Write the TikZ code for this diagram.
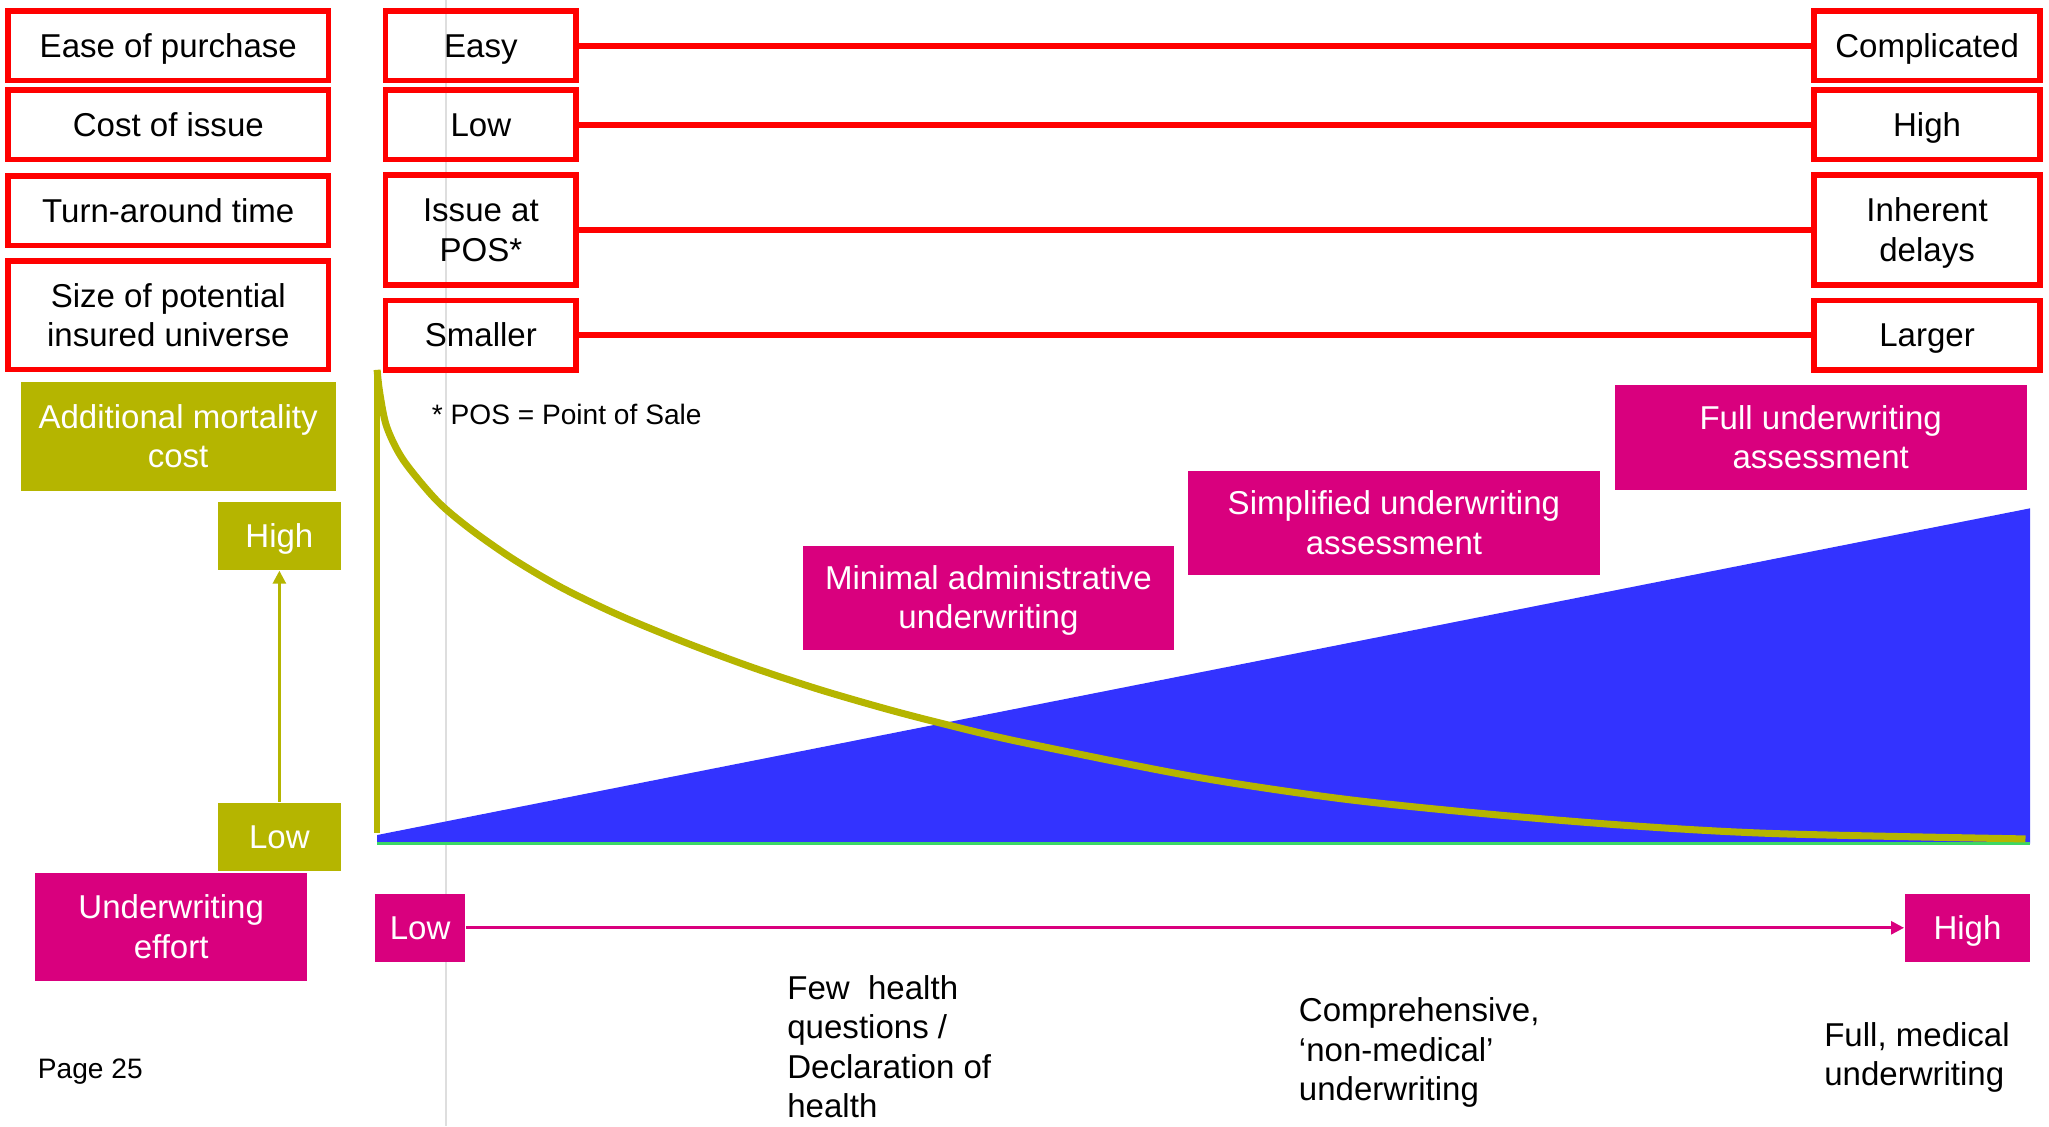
\documentclass[tikz,border=0pt]{standalone}
\usepackage{fontspec}
\setmainfont{Liberation Sans}
\usetikzlibrary{arrows.meta}
\definecolor{boxred}{RGB}{255,0,0}
\definecolor{mortolive}{RGB}{181,181,0}
\definecolor{uwpink}{RGB}{217,0,126}
\definecolor{effortblue}{RGB}{51,51,255}
\definecolor{basegreen}{RGB}{60,215,100}
\definecolor{guidegray}{RGB}{222,222,222}
\newcommand{\dpx}{0.13068mm}
\newcommand{\ts}{\rule[-2pt]{0pt}{10.5pt}}

\begin{document}
\begin{tikzpicture}[x=\dpx,y=-\dpx,inner sep=0pt]
    \tikzstyle{txt}=[font=\fontsize{9.4}{11.2}\selectfont]
    \tikzstyle{redbox}=[txt,rectangle,draw=boxred,line width=1.6pt,align=center,execute at end node=\ts]
    \tikzstyle{olivebox}=[txt,rectangle,fill=mortolive,text=white,align=center,execute at end node=\ts]
    \tikzstyle{pinkbox}=[txt,rectangle,fill=uwpink,text=white,align=center,execute at end node=\ts]
    \tikzstyle{note}=[txt,align=left,anchor=north west]
    \useasboundingbox (0,0) rectangle (1568,862);
    \draw[guidegray,line width=0.3pt] (341.3,0) -- (341.3,862);

    % criteria on the left
    \foreach \id/\y/\txt in {purchase/35/Ease of purchase, cost/95.5/Cost of issue, turn/161.3/Turn-around time}
        \node[redbox,minimum width=245*\dpx,minimum height=53*\dpx] (\id) at (128.8,\y) {\ts\txt};
    \node[redbox,minimum width=245*\dpx,minimum height=83*\dpx] (universe) at (128.8,241.4) {\ts Size of potential\\insured universe};

    % scales
    \foreach \id/\idr/\y/\lt/\rt in {easy/complicated/35/Easy/Complicated, lowcost/highcost/95.5/Low/High, smaller/larger/256.5/Smaller/Larger} {
        \node[redbox,minimum width=146*\dpx,minimum height=53*\dpx] (\id) at (368,\y) {\ts\lt};
        \node[redbox,minimum width=173*\dpx,minimum height=53*\dpx] (\idr) at (1474.7,\y) {\ts\rt};
        \draw[boxred,line width=1.8pt] (\id) -- (\idr);
    }
    \node[redbox,minimum width=146*\dpx,minimum height=84*\dpx] (pos) at (368,176) {\ts Issue at\\POS*};
    \node[redbox,minimum width=173*\dpx,minimum height=84*\dpx] (delays) at (1474.7,176) {\ts Inherent\\delays};
    \draw[boxred,line width=1.8pt] (pos) -- (delays);

    % effort area and mortality curve
    \fill[effortblue] (288.6,639) -- (1553.5,389) -- (1553.5,645.5) -- (288.6,645.5) -- cycle;
    \draw[basegreen,line width=0.6pt] (288.6,645.5) -- (1553.5,645.5);
    \draw[mortolive,line width=2pt] plot[smooth] coordinates {(288.6,283) (290.5,300) (295.9,326.5) (308.6,352) (334.2,383) (359.7,404.7) (392.5,427.7) (430,449.8) (474.4,471.1) (525.5,492.1) (576.5,511) (627.5,527.8) (678.5,542.6) (721.9,553.9) (780.5,567.7) (913,594.2) (1025.4,611.1) (1137,622.8) (1249.6,632) (1361,638) (1550,642)};
    \draw[mortolive,line width=1.9pt] (288.6,283) -- (288.6,637.6);

    \node[olivebox,minimum width=241*\dpx,minimum height=83*\dpx] (mortality) at (136.3,334.2) {\ts Additional mortality\\cost};
    \node[olivebox,minimum width=94*\dpx,minimum height=52*\dpx] (mhigh) at (213.8,410.2) {\ts High};
    \node[olivebox,minimum width=94*\dpx,minimum height=52*\dpx] (mlow) at (213.8,640.2) {\ts Low};
    \draw[mortolive,line width=0.8pt,-{Triangle[length=3.7pt,width=3.7pt]}] (mlow) -- (mhigh);

    \node[pinkbox,minimum width=208*\dpx,minimum height=83*\dpx] (effort) at (131,709.5) {\ts Underwriting\\effort};
    \node[pinkbox,minimum width=69*\dpx,minimum height=52*\dpx] (ulow) at (321.5,710) {\ts Low};
    \node[pinkbox,minimum width=96*\dpx,minimum height=52*\dpx] (uhigh) at (1505.6,710) {\ts High};
    \draw[uwpink,line width=0.8pt,-{Triangle[length=3.7pt,width=3.7pt]}] (ulow) -- (uhigh);

    \foreach \id/\x/\y/\w/\txt in {minimal/756.4/457.5/284/{Minimal administrative\\underwriting}, simplified/1066.7/400.2/315/{Simplified underwriting\\assessment}, full/1393.3/335/315/{Full underwriting\\assessment}}
        \node[pinkbox,minimum width=\w*\dpx,minimum height=80*\dpx] (\id) at (\x,\y) {\ts\txt};

    % notes
    \node[anchor=base west,font=\fontsize{8}{9.6}\selectfont] (posnote) at (330,325.2) {* POS = Point of Sale};
    \node[note] (fewq) at (602,746) {Few~ health\\questions /\\Declaration of\\health};
    \node[note] (nonmed) at (993.5,763) {Comprehensive,\\‘non-medical’\\underwriting};
    \node[note] (medical) at (1395.5,782) {Full, medical\\underwriting};
    \node[anchor=base west,font=\fontsize{8}{9.6}\selectfont] (page) at (28.5,825.2) {Page 25};
\end{tikzpicture}
\end{document}
